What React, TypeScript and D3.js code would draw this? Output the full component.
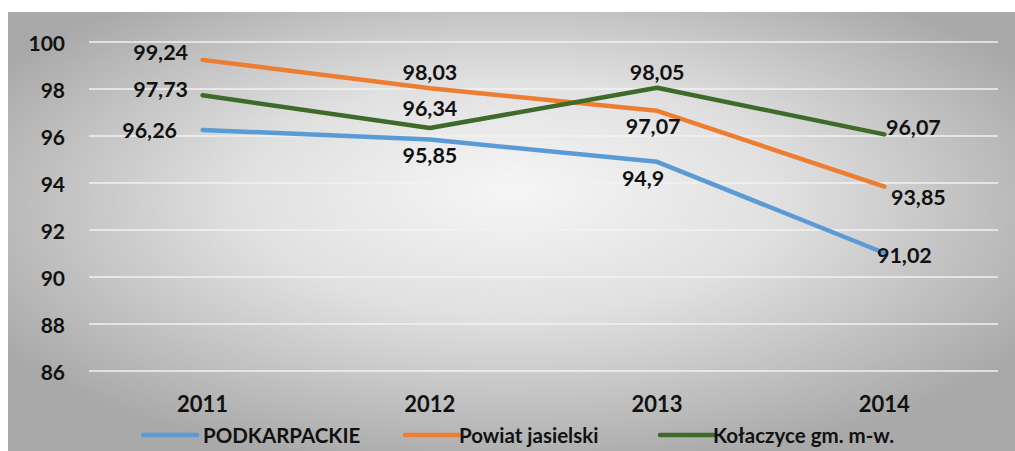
import React from "react";
import * as d3 from "d3";

const categories = ["2011", "2012", "2013", "2014"];
const seriesNames = ["PODKARPACKIE", "Powiat jasielski", "Kołaczyce gm. m-w."];
const podkarpackie = [96.26, 95.85, 94.9, 91.02];
const powiat = [99.24, 98.03, 97.07, 93.85];
const kolaczyce = [97.73, 96.34, 98.05, 96.07];
const yTicks = [86, 88, 90, 92, 94, 96, 98, 100];

const colors = ["#5B9BD5", "#ED7D31", "#3E6A2A"];
// label offsets (dx, dy) per series per point
const labelOffsets: [number, number][][] = [
  [[-53, 0], [0, 15], [-14, 16], [20, 2]],
  [[-42, -8], [0, -16], [-4, 15], [34, 10]],
  [[-42, -6], [0, -20], [0, -16], [29, -7]],
];

const W = 1015;
const H = 451;
const FONT = "Lato, 'Open Sans', sans-serif";

export default function App() {
  const series = [podkarpackie, powiat, kolaczyce];
  const x = d3.scaleBand<string>().domain(categories).range([89, 998]);
  const y = d3.scaleLinear().domain([86, 100]).range([371, 42]);
  const line = d3
    .line<number>()
    .x((_, i) => (x(categories[i]) as number) + x.bandwidth() / 2)
    .y((d) => y(d));
  const fmt = (v: number) => String(v).replace(".", ",");

  const legendItems = [
    { x: 143, tx: 203 },
    { x: 405, tx: 459 },
    { x: 660, tx: 713 },
  ];

  return (
    <svg
      width={W}
      height={H}
      style={{ position: "absolute", left: 0, top: 0 }}
      fontFamily={FONT}
    >
      <defs>
        <radialGradient id="bg" cx="50%" cy="45%" r="60%" fx="50%" fy="40%">
          <stop offset="0%" stopColor="#f6f6f6" />
          <stop offset="45%" stopColor="#e0e0e0" />
          <stop offset="100%" stopColor="#a9a9a9" />
        </radialGradient>
      </defs>
      <rect x={0} y={0} width={W} height={H} fill="#ffffff" />
      <rect x={8} y={12} width={W - 8} height={H - 12} fill="url(#bg)" />
      {yTicks.map((t) => (
        <g key={t}>
          <line
            x1={89}
            x2={998}
            y1={y(t)}
            y2={y(t)}
            stroke="#f2f2f2"
            strokeWidth={1.5}
          />
          <text
            x={65}
            y={y(t)}
            textAnchor="end"
            dominantBaseline="central"
            fontSize={21}
            fontWeight={700}
            fill="#111"
          >
            {t}
          </text>
        </g>
      ))}
      {categories.map((c) => (
        <text
          key={c}
          x={(x(c) as number) + x.bandwidth() / 2}
          y={403}
          textAnchor="middle"
          dominantBaseline="central"
          fontSize={22}
          fontWeight={700}
          fill="#111"
        >
          {c}
        </text>
      ))}
      {series.map((s, si) => (
        <path
          key={si}
          d={line(s) as string}
          fill="none"
          stroke={colors[si]}
          strokeWidth={4.5}
          strokeLinejoin="round"
          strokeLinecap="round"
        />
      ))}
      {series.map((s, si) =>
        s.map((v, i) => (
          <text
            key={si + "-" + i}
            x={(x(categories[i]) as number) + x.bandwidth() / 2 + labelOffsets[si][i][0]}
            y={y(v) + labelOffsets[si][i][1]}
            textAnchor="middle"
            dominantBaseline="central"
            fontSize={21.5}
            fontWeight={700}
            fill="#111"
          >
            {fmt(v)}
          </text>
        ))
      )}
      {seriesNames.map((n, i) => (
        <g key={n}>
          <line
            x1={legendItems[i].x}
            x2={legendItems[i].x + 54}
            y1={435}
            y2={435}
            stroke={colors[i]}
            strokeWidth={4.5}
            strokeLinecap="round"
          />
          <text
            x={legendItems[i].tx}
            y={435}
            dominantBaseline="central"
            fontSize={20.5}
            fontWeight={700}
            fill="#111"
          >
            {n}
          </text>
        </g>
      ))}
    </svg>
  );
}
